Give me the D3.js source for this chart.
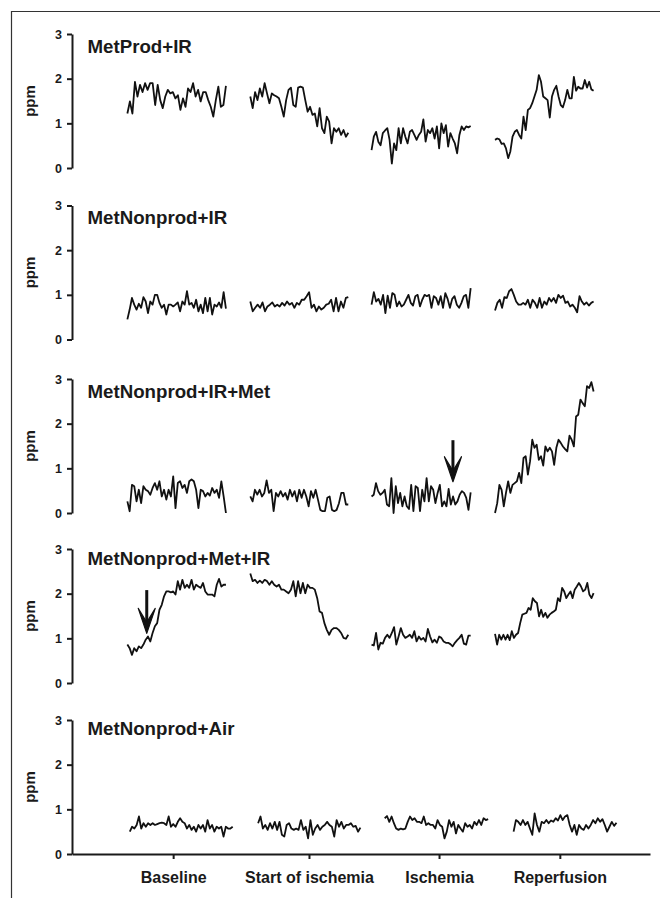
<!DOCTYPE html>
<html>
<head>
<meta charset="UTF-8">
<title>ppm traces</title>
<style>
  body { margin: 0; background: #fff; }
  svg { display: block; font-family: "Liberation Sans", Arial, sans-serif; }
  .trace { fill: none; stroke: #111; stroke-width: 1.8px; stroke-linejoin: round; }
  .axis path, .axis line { stroke: #1a1a1a; stroke-width: 2px; }
  .axis text { font-weight: bold; fill: #1a1a1a; }
  .title { font-weight: bold; font-size: 18.7px; fill: #1a1a1a; }
  .ylab { font-weight: bold; font-size: 15px; fill: #1a1a1a; }
</style>
</head>
<body>
<svg id="chart" width="660" height="898"></svg>
<script src="https://cdn.jsdelivr.net/npm/d3@7"></script>
<script>
// phases and where they sit on the time axis (arbitrary units)
var phases = ["Baseline", "Start of ischemia", "Ischemia", "Reperfusion"];
var phaseTicks = [17.5, 41, 63.5, 84.4];
var phaseSpans = [[10, 27.8], [32.2, 49.9], [54.1, 72.0], [76.4, 94.2]];

var panelNames = ["MetProd+IR", "MetNonprod+IR", "MetNonprod+IR+Met", "MetNonprod+Met+IR", "MetNonprod+Air"];

// one array per phase, values in ppm
var metProdIR = [
  [1.22,1.49,1.22,1.93,1.6,1.86,1.7,1.9,1.75,1.9,1.9,1.41,1.86,1.52,1.34,1.6,1.75,1.67,1.7,1.56,1.63,1.3,1.56,1.37,1.78,1.7,1.9,1.6,1.75,1.49,1.7,1.7,1.52,1.37,1.15,1.52,1.82,1.37,1.41,1.84],
  [1.6,1.34,1.7,1.52,1.78,1.6,1.9,1.67,1.45,1.67,1.63,1.6,1.56,1.37,1.15,1.52,1.75,1.8,1.41,1.37,1.8,1.82,1.8,1.52,1.26,1.37,1.19,1.22,0.93,1.34,0.89,0.78,1.15,1.04,0.55,0.89,0.81,0.89,0.74,0.85,0.7,0.79],
  [0.4,0.7,0.81,0.59,0.51,0.78,0.84,0.89,0.63,0.1,0.55,0.4,0.89,0.55,0.89,0.7,0.55,0.81,0.85,0.74,0.63,0.74,0.81,1.09,0.59,0.85,0.78,0.89,0.66,0.93,0.44,1.0,0.78,0.96,0.48,0.78,0.66,0.55,0.33,0.74,0.93,0.85,0.93,0.91,0.94],
  [0.63,0.66,0.64,0.54,0.55,0.44,0.22,0.37,0.7,0.81,0.85,0.74,0.66,1.15,0.85,1.3,1.34,1.45,1.6,1.75,2.08,1.93,1.6,1.56,1.52,1.13,1.6,1.75,1.84,1.6,1.41,1.36,1.52,1.75,1.56,1.56,2.04,1.73,1.82,1.78,1.78,1.97,1.8,1.93,1.76,1.73]
];
var metNonprodIR = [
  [0.45,0.67,0.93,0.78,0.67,0.8,0.71,0.95,0.85,0.59,0.85,0.78,1.0,1.0,0.82,0.71,0.78,0.56,0.78,0.78,0.74,0.78,0.83,0.63,0.85,0.78,1.08,0.78,0.82,0.71,0.89,0.63,0.78,0.59,0.93,0.63,0.93,0.56,0.78,0.74,0.83,0.71,1.06,0.69],
  [0.85,0.63,0.71,0.78,0.71,0.83,0.63,0.74,0.78,0.83,0.74,0.78,0.74,0.82,0.76,0.85,0.78,0.82,0.71,0.82,0.78,0.89,0.89,0.97,1.06,0.71,0.78,0.63,0.74,0.67,0.71,0.78,0.8,0.89,0.63,0.93,0.63,0.85,0.71,0.93,0.95],
  [0.78,1.06,0.85,0.91,0.78,1.0,0.59,0.98,0.71,1.04,1.0,0.74,0.85,0.74,0.78,0.89,1.0,0.82,0.76,0.97,1.0,0.74,0.89,1.0,0.97,1.0,0.71,0.97,0.93,0.78,0.97,0.71,1.04,0.91,0.71,0.91,0.97,0.78,0.71,0.82,0.97,1.0,0.71,1.15],
  [0.65,0.82,0.89,0.71,0.95,0.93,1.08,1.13,1.0,0.85,0.78,0.78,0.82,0.78,0.89,0.71,0.89,0.82,0.71,0.93,0.71,0.85,0.78,0.93,0.85,0.93,0.82,1.0,0.93,0.98,0.82,0.85,0.74,0.78,0.71,0.61,0.97,0.85,0.78,0.83,0.76,0.82,0.85]
];
var metNonprodIRMet = [
  [0.26,0.04,0.63,0.6,0.26,0.52,0.22,0.6,0.52,0.49,0.41,0.56,0.67,0.52,0.71,0.37,0.52,0.3,0.52,0.37,0.82,0.11,0.67,0.71,0.56,0.63,0.45,0.71,0.75,0.71,0.52,0.11,0.52,0.49,0.37,0.45,0.39,0.56,0.45,0.52,0.34,0.71,0.37,0.0],
  [0.37,0.26,0.52,0.41,0.52,0.37,0.45,0.73,0.45,0.52,0.04,0.45,0.37,0.49,0.37,0.45,0.3,0.52,0.37,0.49,0.26,0.52,0.34,0.52,0.37,0.15,0.49,0.34,0.52,0.3,0.07,0.04,0.04,0.34,0.37,0.07,0.04,0.07,0.22,0.45,0.45,0.19,0.19],
  [0.37,0.41,0.67,0.49,0.41,0.45,0.52,0.19,0.15,0.78,0.0,0.6,0.22,0.45,0.15,0.37,0.15,0.09,0.63,0.04,0.6,0.56,0.04,0.52,0.26,0.78,0.26,0.6,0.52,0.22,0.45,0.63,0.15,0.26,0.15,0.54,0.19,0.37,0.19,0.26,0.41,0.49,0.45,0.34,0.07,0.46],
  [0.0,0.22,0.63,0.52,0.15,0.45,0.71,0.45,0.63,0.67,0.71,0.9,0.67,1.23,1.27,0.86,1.16,1.64,1.46,1.53,1.19,1.27,1.06,1.49,1.38,1.46,1.38,1.08,1.46,1.64,1.57,1.49,1.43,1.38,1.73,1.64,1.49,2.16,2.2,2.54,2.46,2.39,2.84,2.8,2.93,2.72]
];
var metNonprodMetIR = [
  [0.86,0.78,0.63,0.78,0.71,0.82,0.78,0.86,0.97,1.04,0.93,1.12,1.27,1.34,1.64,1.75,1.94,2.05,2.05,2.03,2.05,1.98,2.28,2.09,2.31,2.13,2.2,2.13,2.31,2.09,2.2,2.16,2.13,2.24,2.05,1.98,1.98,1.98,1.94,2.2,2.33,2.16,2.2,2.2],
  [2.45,2.28,2.31,2.24,2.29,2.24,2.31,2.28,2.2,2.28,2.2,2.16,2.2,2.09,2.09,2.05,2.01,2.09,2.28,1.94,2.28,2.01,2.24,2.01,2.2,2.13,2.13,2.09,1.9,1.6,1.57,1.34,1.19,1.08,1.19,1.23,1.23,1.19,1.12,1.01,0.99,1.08],
  [0.86,0.84,1.12,0.75,0.9,0.88,1.01,1.08,1.01,1.12,1.25,0.86,1.04,1.23,1.08,1.01,1.04,1.08,1.01,1.16,0.93,1.04,0.97,1.01,0.93,1.21,1.04,0.91,0.97,0.9,1.04,1.01,0.93,0.9,0.9,0.87,0.82,0.9,0.96,1.01,1.08,0.88,0.86,1.06,1.06],
  [1.1,0.86,1.08,0.97,1.08,0.97,1.08,0.96,1.16,1.01,1.08,1.12,1.34,1.53,1.55,1.57,1.68,1.64,1.9,1.83,1.79,1.49,1.64,1.48,1.57,1.46,1.53,1.57,1.6,1.64,1.9,1.83,2.13,2.05,1.9,1.98,2.05,1.9,2.09,2.16,2.24,2.16,2.05,2.09,2.24,1.98,1.9,2.01]
];
var metNonprodAir = [
  [0.5,0.61,0.57,0.65,0.84,0.57,0.69,0.61,0.69,0.65,0.69,0.65,0.67,0.69,0.7,0.69,0.65,0.84,0.61,0.67,0.61,0.72,0.8,0.72,0.69,0.57,0.65,0.54,0.61,0.5,0.65,0.57,0.65,0.5,0.76,0.57,0.65,0.5,0.61,0.57,0.61,0.39,0.61,0.57,0.57,0.61],
  [0.69,0.84,0.57,0.65,0.54,0.69,0.57,0.72,0.54,0.72,0.43,0.39,0.65,0.69,0.57,0.54,0.57,0.54,0.76,0.54,0.61,0.35,0.76,0.43,0.57,0.65,0.54,0.61,0.65,0.72,0.65,0.61,0.39,0.76,0.61,0.72,0.57,0.65,0.65,0.69,0.61,0.63,0.5,0.59],
  [0.8,0.85,0.72,0.84,0.69,0.57,0.54,0.57,0.55,0.57,0.72,0.84,0.76,0.8,0.72,0.72,0.69,0.84,0.65,0.69,0.65,0.65,0.57,0.76,0.65,0.61,0.35,0.5,0.76,0.61,0.72,0.46,0.65,0.57,0.5,0.69,0.61,0.65,0.57,0.72,0.65,0.76,0.65,0.8,0.76,0.78],
  [0.5,0.76,0.72,0.65,0.76,0.65,0.72,0.57,0.43,0.91,0.65,0.5,0.72,0.69,0.76,0.69,0.75,0.72,0.8,0.75,0.87,0.76,0.84,0.87,0.65,0.5,0.65,0.43,0.65,0.57,0.54,0.65,0.57,0.65,0.76,0.69,0.8,0.72,0.78,0.65,0.5,0.61,0.72,0.63,0.7]
];

// arrows: panel index, time, ppm at tip, ppm at tail
var arrows = [
  {panel: 2, t: 68.8, tip: 0.70, tail: 1.63},
  {panel: 3, t: 13.5, tip: 1.11, tail: 2.08}
];

var panelData = [metProdIR, metNonprodIR, metNonprodIRMet, metNonprodMetIR, metNonprodAir];

// layout
var svg = d3.select("#chart");
var axisX = 72, panelH = 134;
var panelTops = [34, 205.5, 379, 549, 720];
var titleDy = [19, 18, 18.7, 16, 15];

// frame (left + top)
svg.append("path")
  .attr("d", "M11.5,898V11.5H660")
  .attr("fill", "none")
  .attr("stroke", "#333")
  .attr("stroke-width", 1.2);

var line = d3.line()
  .x(function (d) { return d.x; })
  .y(function (d) { return d.y; });

panelData.forEach(function (segs, p) {
  var last = p === panelData.length - 1;
  var x = d3.scaleLinear().domain([0, 100]).range([axisX, last ? 650 : 625.7]);
  var y = d3.scaleLinear().domain([0, 3]).range([panelTops[p] + panelH, panelTops[p]]);

  var g = svg.append("g");

  g.append("g")
    .attr("class", "axis")
    .attr("transform", "translate(" + axisX + ",0)")
    .call(d3.axisLeft(y).tickValues([0, 1, 2, 3]).tickFormat(d3.format("d"))
      .tickSize(5).tickSizeOuter(0).tickPadding(5))
    .call(function (a) { a.selectAll("text").style("font-size", "12.5px"); });

  g.append("text")
    .attr("class", "ylab")
    .attr("transform", "translate(35," + y(1.5) + ") rotate(-90)")
    .attr("text-anchor", "middle")
    .text("ppm");

  g.append("text")
    .attr("class", "title")
    .attr("x", 87.5)
    .attr("y", panelTops[p] + titleDy[p])
    .text(panelNames[p]);

  segs.forEach(function (vals, s) {
    var span = phaseSpans[s];
    var t = d3.scaleLinear().domain([0, vals.length - 1]).range(span);
    var pts = vals.map(function (v, i) { return {x: x(t(i)), y: y(v)}; });
    g.append("path").attr("class", "trace").attr("d", line(pts));
  });

  arrows.filter(function (a) { return a.panel === p; }).forEach(function (a) {
    var ax = x(a.t), tipY = y(a.tip), tailY = y(a.tail);
    g.append("line")
      .attr("x1", ax).attr("x2", ax)
      .attr("y1", tailY).attr("y2", tipY - 10)
      .attr("stroke", "#111").attr("stroke-width", 3);
    g.append("path")
      .attr("d", "M" + ax + "," + tipY + "L" + (ax - 8.5) + "," + (tipY - 25) +
        "L" + ax + "," + (tipY - 11) + "L" + (ax + 8.5) + "," + (tipY - 25) + "Z")
      .attr("fill", "#111")
      .attr("stroke", "#111")
      .attr("stroke-width", 1.2)
      .attr("stroke-linejoin", "round");
  });

  if (last) {
    g.append("g")
      .attr("class", "axis")
      .attr("transform", "translate(0," + y(0) + ")")
      .call(d3.axisBottom(x).tickValues(phaseTicks)
        .tickFormat(function (d, i) { return phases[i]; })
        .tickSize(5).tickSizeOuter(0).tickPadding(13))
      .call(function (a) { a.selectAll("text").style("font-size", "16px"); });
  }
});
</script>
</body>
</html>
